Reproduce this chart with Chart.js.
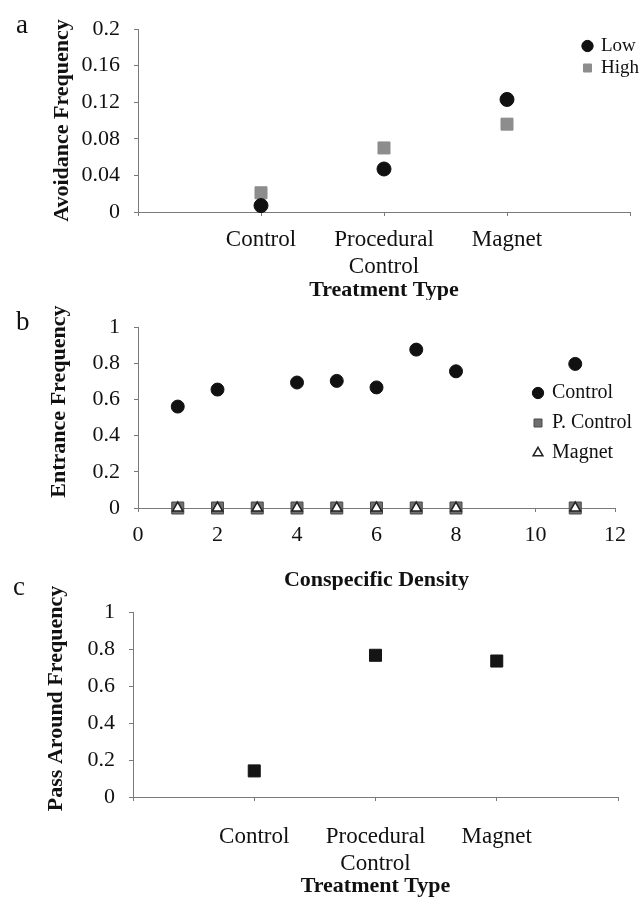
<!DOCTYPE html>
<html>
<head>
<meta charset="utf-8">
<script src="https://cdn.jsdelivr.net/npm/chart.js@4.4.1/dist/chart.umd.min.js"></script>
<style>
    html, body { margin: 0; padding: 0; background: #fff; }
    #wrap { position: relative; width: 640px; height: 897px; overflow: hidden; }
    canvas { position: absolute; left: 0; }
</style>
</head>
<body>
<div id="wrap">
    <canvas id="chartA" width="640" height="300" style="top:0px"></canvas>
    <canvas id="chartB" width="640" height="290" style="top:300px"></canvas>
    <canvas id="chartC" width="640" height="327" style="top:570px"></canvas>
</div>
<script>
// Panel a - avoidance
const categories = ['Control', ['Procedural', 'Control'], 'Magnet'];
const catTicks = [0, 1, 2, 3, 4];
const avoidTicks = [0, 0.04, 0.08, 0.12, 0.16, 0.2];
const avoidLow = [0.007, 0.047, 0.123];
const avoidHigh = [0.021, 0.070, 0.096];

// Panel b - entrance vs density
const densities = [1, 2, 3, 4, 5, 6, 7, 8, 11];
const densityTicks = [0, 2, 4, 6, 8, 10, 12];
const entranceTicks = [0, 0.2, 0.4, 0.6, 0.8, 1];
const entranceControl = [0.561, 0.655, null, 0.694, 0.703, 0.667, 0.876, 0.756, 0.797];
const entrancePControl = [0, 0, 0, 0, 0, 0, 0, 0, 0];
const entranceMagnet = [0, 0, 0, 0, 0, 0, 0, 0, 0];

// Panel c - pass around
const passTicks = [0, 0.2, 0.4, 0.6, 0.8, 1];
const passAround = [0.141, 0.766, 0.735];

const SERIF = "'Liberation Serif', 'Times New Roman', serif";
const INK = '#111';
const AXIS = '#7a7a7a';

// moves the legend box to a fixed spot after layout
const legendSpot = {
    id: 'legendSpot',
    afterLayout(chart, args, opts) {
        const lg = chart.legend;
        if (!lg || opts.left == null) return;
        lg.left = opts.left;
        lg.top = opts.top;
        lg.right = opts.left + 200;
        lg.bottom = opts.top + 200;
    }
};

// shifts the y axis title along the axis
const titleNudge = {
    id: 'titleNudge',
    afterLayout(chart, args, opts) {
        const s = chart.scales.y;
        if (!opts.dy || s._nudged) return;
        const draw = s.drawTitle;
        s.drawTitle = function () {
            this.top += opts.dy;
            this.bottom += opts.dy;
            draw.call(this);
            this.top -= opts.dy;
            this.bottom -= opts.dy;
        };
        s._nudged = true;
    }
};

function fixedTicks(values) {
    return scale => { scale.ticks = values.map(v => ({ value: v })); };
}

function axisLines() {
    return {
        grid: { drawOnChartArea: false, drawTicks: true, tickLength: 4, color: AXIS, lineWidth: 1 },
        border: { display: true, color: AXIS, width: 1 }
    };
}

function yAxis(ticks, width, title, titlePad) {
    return {
        type: 'linear',
        min: ticks[0],
        max: ticks[ticks.length - 1],
        afterBuildTicks: fixedTicks(ticks),
        afterFit: s => { s.width = width; },
        ...axisLines(),
        ticks: {
            color: INK,
            padding: 14,
            font: { family: SERIF, size: 22 },
            callback: v => String(v)
        },
        title: {
            display: true,
            text: title,
            color: INK,
            font: { family: SERIF, size: 22, weight: 'bold' },
            padding: { top: titlePad, bottom: 0 }
        }
    };
}

function xAxis(ticks, height, tickPad, fontSize, title, titlePad, label) {
    return {
        type: 'linear',
        min: ticks[0],
        max: ticks[ticks.length - 1],
        afterBuildTicks: fixedTicks(ticks),
        afterFit: s => { s.height = height; },
        ...axisLines(),
        ticks: {
            color: INK,
            padding: tickPad,
            maxRotation: 0,
            autoSkip: false,
            font: { family: SERIF, size: fontSize },
            callback: label
        },
        title: {
            display: true,
            text: title,
            color: INK,
            font: { family: SERIF, size: 22, weight: 'bold' },
            padding: { top: 0, bottom: titlePad }
        }
    };
}

function panelTitle(letter, top, bottom) {
    return {
        display: true,
        text: letter,
        align: 'start',
        color: INK,
        font: { family: SERIF, size: 27, weight: 'normal', lineHeight: 1 },
        padding: { top: top, bottom: bottom }
    };
}

function legendOpts(size, box, pad) {
    return {
        display: true,
        position: 'chartArea',
        align: 'start',
        labels: {
            usePointStyle: true,
            boxWidth: box,
            boxHeight: box,
            padding: pad,
            color: INK,
            font: { family: SERIF, size: size },
            sort: (a, b) => a.datasetIndex - b.datasetIndex
        }
    };
}

const catLabel = v => categories[v - 1] || '';
const catPoints = vals => vals.map((v, i) => ({ x: i + 1, y: v }));
const densityPoints = vals => densities.map((d, i) => ({ x: d, y: vals[i] })).filter(p => p.y !== null);

// a
new Chart(document.getElementById('chartA'), {
    type: 'scatter',
    data: {
        datasets: [{
            label: 'Low',
            data: catPoints(avoidLow),
            pointStyle: 'circle',
            pointRadius: 7,
            backgroundColor: '#111',
            borderColor: '#111',
            borderWidth: 1,
            clip: false
        }, {
            label: 'High',
            data: catPoints(avoidHigh),
            pointStyle: 'rect',
            pointRadius: 8.5,
            backgroundColor: '#8d8d8d',
            borderColor: '#8d8d8d',
            borderWidth: 1,
            clip: false
        }]
    },
    options: {
        responsive: false,
        animation: false,
        events: [],
        layout: { padding: { left: 16, right: 10, top: 0, bottom: 0 } },
        scales: {
            x: xAxis(catTicks, 88, 10, 23, 'Treatment Type', -3.2, catLabel),
            y: yAxis(avoidTicks, 122, 'Avoidance Frequency', 32.8)
        },
        plugins: {
            title: panelTitle('a', 12.5, -10.5),
            legend: legendOpts(19, 8, 3),
            legendSpot: { left: 580.5, top: 33.5 },
            tooltip: { enabled: false }
        }
    },
    plugins: [legendSpot]
});

// b
new Chart(document.getElementById('chartB'), {
    type: 'scatter',
    data: {
        datasets: [{
            label: 'Control',
            data: densityPoints(entranceControl),
            pointStyle: 'circle',
            pointRadius: 6.5,
            backgroundColor: '#111',
            borderColor: '#111',
            borderWidth: 1,
            order: 0,
            clip: false
        }, {
            label: 'P. Control',
            data: densityPoints(entrancePControl),
            pointStyle: 'rect',
            pointRadius: 8.5,
            backgroundColor: '#6f6f6f',
            borderColor: '#4a4a4a',
            borderWidth: 1,
            order: 2,
            clip: false
        }, {
            label: 'Magnet',
            data: densityPoints(entranceMagnet),
            pointStyle: 'triangle',
            pointRadius: 6,
            backgroundColor: '#fff',
            borderColor: '#222',
            borderWidth: 1.5,
            order: 1,
            clip: false
        }]
    },
    options: {
        responsive: false,
        animation: false,
        events: [],
        layout: { padding: { left: 16, right: 25, top: 0, bottom: 0 } },
        scales: {
            x: xAxis(densityTicks, 82, 10, 22, 'Conspecific Density', -3.2, v => String(v)),
            y: yAxis(entranceTicks, 122, 'Entrance Frequency', 29.8)
        },
        plugins: {
            title: panelTitle('b', 2.3, -9.3),
            legend: legendOpts(20, 8, 10),
            legendSpot: { left: 524, top: 73 },
            titleNudge: { dy: -16 },
            tooltip: { enabled: false }
        }
    },
    plugins: [legendSpot, titleNudge]
});

// c
new Chart(document.getElementById('chartC'), {
    type: 'scatter',
    data: {
        datasets: [{
            label: 'Pass Around',
            data: catPoints(passAround),
            pointStyle: 'rect',
            pointRadius: 8.5,
            backgroundColor: '#151515',
            borderColor: '#151515',
            borderWidth: 1,
            clip: false
        }]
    },
    options: {
        responsive: false,
        animation: false,
        events: [],
        layout: { padding: { left: 13, right: 15, top: 0, bottom: 0 } },
        scales: {
            x: xAxis(catTicks, 100, 22, 23, 'Treatment Type', -3, catLabel),
            y: yAxis(passTicks, 120, 'Pass Around Frequency', 29.8)
        },
        plugins: {
            title: panelTitle('c', 4.3, 10.7),
            legend: { display: false },
            titleNudge: { dy: -6 },
            tooltip: { enabled: false }
        }
    },
    plugins: [titleNudge]
});
</script>
</body>
</html>
